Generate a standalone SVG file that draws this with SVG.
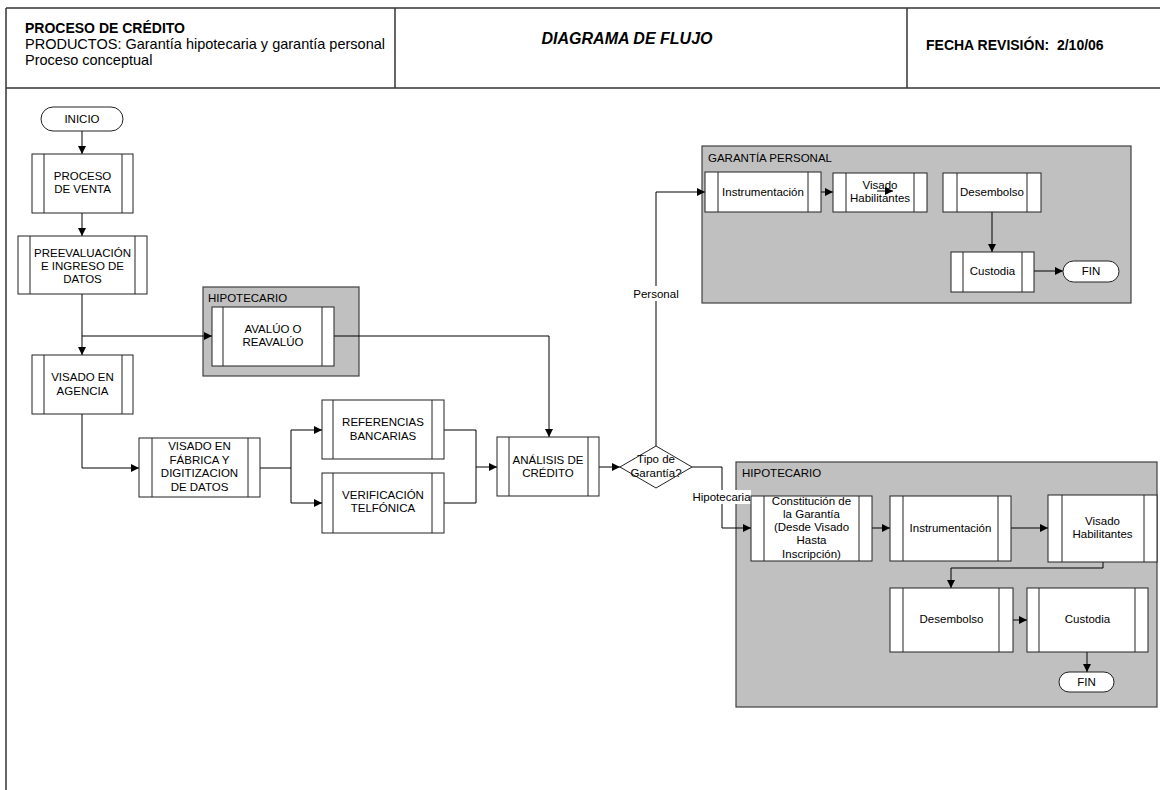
<svg xmlns="http://www.w3.org/2000/svg" width="1160" height="790" viewBox="0 0 1160 790">
  <style>
    text { font-family: "Liberation Sans", Arial, sans-serif; fill: #000; }
    .frame { stroke: #333; stroke-width: 1.5; fill: none; }
    .h-bold { font-size: 14px; font-weight: bold; }
    .h-reg { font-size: 14.5px; }
    .title { font-size: 16px; font-weight: bold; font-style: italic; }
    .lane { fill: #c0c0c0; stroke: #404040; stroke-width: 1.2; }
    .lane-label { font-size: 11.5px; }
    .box { fill: #fff; stroke: #222; stroke-width: 1; }
    .bar { stroke: #222; stroke-width: 1; }
    .t { font-size: 11.5px; text-anchor: middle; }
    .conn { fill: none; stroke: #000; stroke-width: 1; }
    .lbl-bg { fill: #fff; }
  </style>
  <defs>
    <marker id="arrow" viewBox="0 0 10 10" refX="10" refY="5" markerWidth="9" markerHeight="8" markerUnits="userSpaceOnUse" orient="auto">
      <path d="M0,0 L10,5 L0,10 z" fill="#000"/>
    </marker>
  </defs>

  <rect x="0" y="0" width="1160" height="790" fill="#fff"/>

  <!-- page frame and title block -->
  <g id="header">
    <line class="frame" x1="6" y1="8" x2="1160" y2="8"/>
    <line class="frame" x1="6" y1="88" x2="1160" y2="88"/>
    <line class="frame" x1="6" y1="8" x2="6" y2="790" stroke-width="2"/>
    <line class="frame" x1="395" y1="8" x2="395" y2="88"/>
    <line class="frame" x1="907" y1="8" x2="907" y2="88"/>
    <text class="h-bold" x="25" y="33">PROCESO DE CRÉDITO</text>
    <text class="h-reg" x="25" y="49">PRODUCTOS: Garantía hipotecaria y garantía personal</text>
    <text class="h-reg" x="25" y="65">Proceso conceptual</text>
    <text class="title" x="627" y="44" text-anchor="middle">DIAGRAMA DE FLUJO</text>
    <text class="h-bold" x="926" y="50" xml:space="preserve">FECHA REVISIÓN:  2/10/06</text>
  </g>

  <!-- swimlane containers -->
  <g id="lane-hipotecario-avaluo">
    <rect class="lane" x="203" y="287" width="156" height="89"/>
    <text class="lane-label" x="208" y="302">HIPOTECARIO</text>
  </g>
  <g id="lane-garantia-personal">
    <rect class="lane" x="702" y="146" width="429" height="157"/>
    <text class="lane-label" x="708" y="162">GARANTÍA PERSONAL</text>
  </g>
  <g id="lane-hipotecario">
    <rect class="lane" x="736" y="462" width="421" height="245"/>
    <text class="lane-label" x="742" y="477">HIPOTECARIO</text>
  </g>

  <!-- connectors -->
  <g id="connectors">
    <path class="conn" d="M82,131 V154" marker-end="url(#arrow)"/>
    <path class="conn" d="M82,213 V236" marker-end="url(#arrow)"/>
    <path class="conn" d="M82,294 V355" marker-end="url(#arrow)"/>
    <path class="conn" d="M82,336 H212" marker-end="url(#arrow)"/>
    <path class="conn" d="M334,336 H549 V437" marker-end="url(#arrow)"/>
    <path class="conn" d="M82,414 V468 H139" marker-end="url(#arrow)"/>
    <path class="conn" d="M260,468 H291 V430 H322" marker-end="url(#arrow)"/>
    <path class="conn" d="M291,468 V503 H322" marker-end="url(#arrow)"/>
    <path class="conn" d="M444,430 H476 V467 H497" marker-end="url(#arrow)"/>
    <path class="conn" d="M444,503 H476 V467"/>
    <path class="conn" d="M599,467 H620" marker-end="url(#arrow)"/>
    <path class="conn" d="M656,446 V192 H705" marker-end="url(#arrow)"/>
    <path class="conn" d="M692,467 H722 V528 H751" marker-end="url(#arrow)"/>
    <path class="conn" d="M821,192 H833" marker-end="url(#arrow)"/>
    <path class="conn" d="M992,212 V252" marker-end="url(#arrow)"/>
    <path class="conn" d="M1034,271 H1063" marker-end="url(#arrow)"/>
    <path class="conn" d="M872,528 H890" marker-end="url(#arrow)"/>
    <path class="conn" d="M1011,528 H1048" marker-end="url(#arrow)"/>
    <path class="conn" d="M1103,562 V568 H951 V588" marker-end="url(#arrow)"/>
    <path class="conn" d="M1013,620 H1027" marker-end="url(#arrow)"/>
    <path class="conn" d="M1087,652 V672" marker-end="url(#arrow)"/>
    <!-- condition labels -->
    <rect class="lbl-bg" x="633" y="286" width="46" height="15"/>
    <text class="t" x="656" y="298">Personal</text>
    <rect class="lbl-bg" x="692" y="490" width="59" height="14"/>
    <text class="t" x="721.5" y="501">Hipotecaria</text>
  </g>

  <!-- main flow -->
  <g id="inicio">
    <rect class="box" x="41" y="107" width="82" height="24" rx="12"/>
    <text class="t" x="82" y="123">INICIO</text>
  </g>
  <g id="proceso-venta">
    <rect class="box" x="32" y="154" width="101" height="59"/>
    <line class="bar" x1="44" y1="154" x2="44" y2="213"/>
    <line class="bar" x1="122" y1="154" x2="122" y2="213"/>
    <text class="t" x="82.5" y="180">PROCESO</text>
    <text class="t" x="82.5" y="193">DE VENTA</text>
  </g>
  <g id="preevaluacion">
    <rect class="box" x="18" y="236" width="129" height="58"/>
    <line class="bar" x1="30" y1="236" x2="30" y2="294"/>
    <line class="bar" x1="135" y1="236" x2="135" y2="294"/>
    <text class="t" x="82.5" y="257">PREEVALUACIÓN</text>
    <text class="t" x="82.5" y="270">E INGRESO DE</text>
    <text class="t" x="82.5" y="283">DATOS</text>
  </g>
  <g id="avaluo">
    <rect class="box" x="212" y="307" width="122" height="59"/>
    <line class="bar" x1="223" y1="307" x2="223" y2="366"/>
    <line class="bar" x1="322" y1="307" x2="322" y2="366"/>
    <text class="t" x="273" y="333">AVALÚO O</text>
    <text class="t" x="273" y="346">REAVALÚO</text>
  </g>
  <g id="visado-agencia">
    <rect class="box" x="32" y="355" width="101" height="59"/>
    <line class="bar" x1="44" y1="355" x2="44" y2="414"/>
    <line class="bar" x1="122" y1="355" x2="122" y2="414"/>
    <text class="t" x="82.5" y="381">VISADO EN</text>
    <text class="t" x="82.5" y="395">AGENCIA</text>
  </g>
  <g id="visado-fabrica">
    <rect class="box" x="139" y="438" width="121" height="59"/>
    <line class="bar" x1="152" y1="438" x2="152" y2="497"/>
    <line class="bar" x1="248" y1="438" x2="248" y2="497"/>
    <text class="t" x="199.5" y="450">VISADO EN</text>
    <text class="t" x="199.5" y="464">FÁBRICA Y</text>
    <text class="t" x="199.5" y="477">DIGITIZACION</text>
    <text class="t" x="199.5" y="491">DE DATOS</text>
  </g>
  <g id="referencias">
    <rect class="box" x="322" y="400" width="122" height="59"/>
    <line class="bar" x1="333" y1="400" x2="333" y2="459"/>
    <line class="bar" x1="432" y1="400" x2="432" y2="459"/>
    <text class="t" x="383" y="426">REFERENCIAS</text>
    <text class="t" x="383" y="440">BANCARIAS</text>
  </g>
  <g id="verificacion">
    <rect class="box" x="322" y="473" width="122" height="60"/>
    <line class="bar" x1="333" y1="473" x2="333" y2="533"/>
    <line class="bar" x1="432" y1="473" x2="432" y2="533"/>
    <text class="t" x="383" y="499">VERIFICACIÓN</text>
    <text class="t" x="383" y="512">TELFÓNICA</text>
  </g>
  <g id="analisis">
    <rect class="box" x="497" y="437" width="102" height="59"/>
    <line class="bar" x1="509" y1="437" x2="509" y2="496"/>
    <line class="bar" x1="588" y1="437" x2="588" y2="496"/>
    <text class="t" x="548" y="464">ANÁLISIS DE</text>
    <text class="t" x="548" y="477">CRÉDITO</text>
  </g>
  <g id="tipo-garantia">
    <path class="box" d="M620,467 L656,446 L692,467 L656,488 Z"/>
    <text class="t" x="656" y="463">Tipo de</text>
    <text class="t" x="656" y="477">Garantía?</text>
  </g>

  <!-- personal guarantee branch -->
  <g id="gp-instrumentacion">
    <rect class="box" x="705" y="172" width="116" height="40"/>
    <line class="bar" x1="718" y1="172" x2="718" y2="212"/>
    <line class="bar" x1="808" y1="172" x2="808" y2="212"/>
    <text class="t" x="763" y="196">Instrumentación</text>
  </g>
  <g id="gp-visado">
    <rect class="box" x="833" y="173" width="94" height="39"/>
    <line class="bar" x1="846" y1="173" x2="846" y2="212"/>
    <line class="bar" x1="914" y1="173" x2="914" y2="212"/>
    <text class="t" x="880" y="189">Visado</text>
    <text class="t" x="880" y="202">Habilitantes</text>
    <path class="conn" d="M877,191 H893" marker-end="url(#arrow)"/>
  </g>
  <g id="gp-desembolso">
    <rect class="box" x="943" y="173" width="98" height="39"/>
    <line class="bar" x1="957" y1="173" x2="957" y2="212"/>
    <line class="bar" x1="1027" y1="173" x2="1027" y2="212"/>
    <text class="t" x="992" y="196">Desembolso</text>
  </g>
  <g id="gp-custodia">
    <rect class="box" x="951" y="252" width="83" height="40"/>
    <line class="bar" x1="963" y1="252" x2="963" y2="292"/>
    <line class="bar" x1="1022" y1="252" x2="1022" y2="292"/>
    <text class="t" x="992.5" y="275">Custodia</text>
  </g>
  <g id="gp-fin">
    <rect class="box" x="1063" y="261" width="56" height="21" rx="10.5"/>
    <text class="t" x="1091" y="275">FIN</text>
  </g>

  <!-- mortgage guarantee branch -->
  <g id="h-constitucion">
    <rect class="box" x="751" y="496" width="121" height="65"/>
    <line class="bar" x1="764" y1="496" x2="764" y2="561"/>
    <line class="bar" x1="859" y1="496" x2="859" y2="561"/>
    <text class="t" x="811.5" y="505">Constitución de</text>
    <text class="t" x="811.5" y="518">la Garantía</text>
    <text class="t" x="811.5" y="531">(Desde Visado</text>
    <text class="t" x="811.5" y="544">Hasta</text>
    <text class="t" x="811.5" y="558">Inscripción)</text>
  </g>
  <g id="h-instrumentacion">
    <rect class="box" x="890" y="496" width="121" height="65"/>
    <line class="bar" x1="903" y1="496" x2="903" y2="561"/>
    <line class="bar" x1="998" y1="496" x2="998" y2="561"/>
    <text class="t" x="950.5" y="532">Instrumentación</text>
  </g>
  <g id="h-visado">
    <rect class="box" x="1048" y="495" width="109" height="67"/>
    <line class="bar" x1="1062" y1="495" x2="1062" y2="562"/>
    <line class="bar" x1="1144" y1="495" x2="1144" y2="562"/>
    <text class="t" x="1102.5" y="525">Visado</text>
    <text class="t" x="1102.5" y="538">Habilitantes</text>
  </g>
  <g id="h-desembolso">
    <rect class="box" x="890" y="588" width="123" height="64"/>
    <line class="bar" x1="903" y1="588" x2="903" y2="652"/>
    <line class="bar" x1="999" y1="588" x2="999" y2="652"/>
    <text class="t" x="951.5" y="623">Desembolso</text>
  </g>
  <g id="h-custodia">
    <rect class="box" x="1027" y="588" width="121" height="64"/>
    <line class="bar" x1="1039" y1="588" x2="1039" y2="652"/>
    <line class="bar" x1="1135" y1="588" x2="1135" y2="652"/>
    <text class="t" x="1087.5" y="623">Custodia</text>
  </g>
  <g id="h-fin">
    <rect class="box" x="1059" y="672" width="55" height="20" rx="10"/>
    <text class="t" x="1086.5" y="686">FIN</text>
  </g>
</svg>
